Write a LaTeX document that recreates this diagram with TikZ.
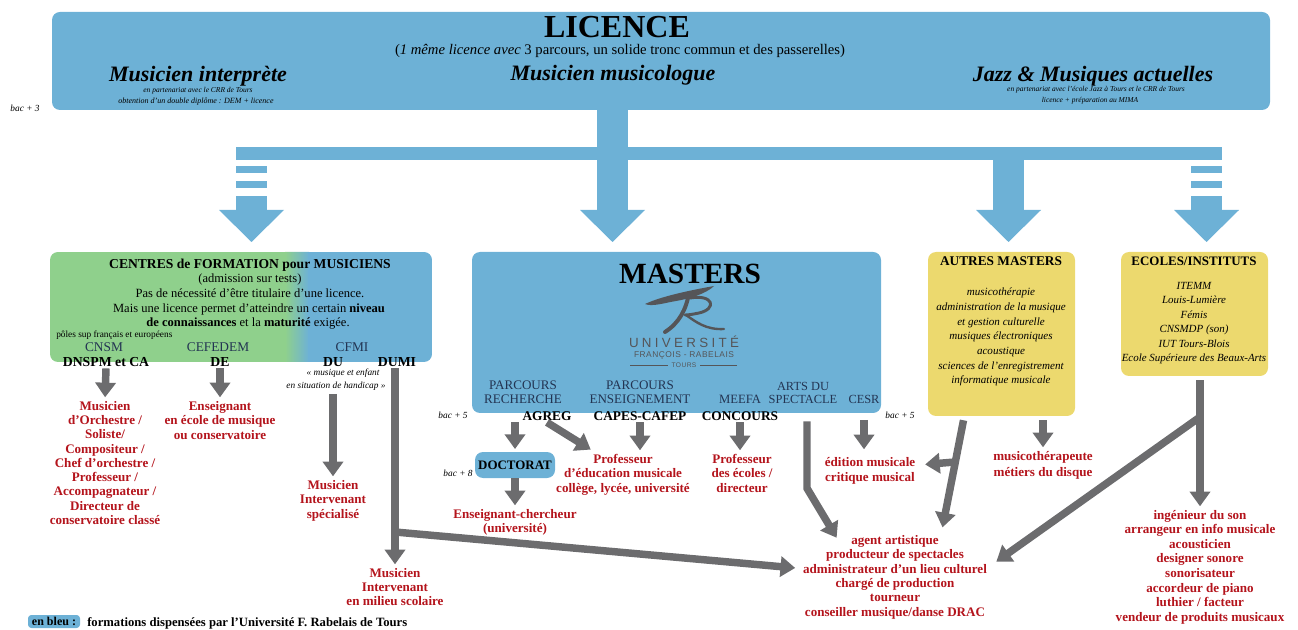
\documentclass[tikz,border=0pt]{standalone}
\usepackage{fontspec}
\setmainfont{Liberation Serif}
\newfontfamily\logofont[LetterSpace=25]{Liberation Sans}
\newfontfamily\logosmall[LetterSpace=6]{Liberation Sans}
\usetikzlibrary{arrows.meta,calc}

\definecolor{licblue}{RGB}{109,177,214}
\definecolor{formgreen}{RGB}{143,208,140}
\definecolor{autyellow}{RGB}{236,217,110}
\definecolor{arrgray}{RGB}{108,108,110}
\definecolor{metred}{RGB}{180,20,28}
\definecolor{navytxt}{RGB}{35,52,82}
\definecolor{logogray}{RGB}{85,85,88}

\tikzset{
  garrow/.style={draw=arrgray, line width=5.6pt, shorten >=2pt, -{Triangle[width=15pt,length=11pt]}},
  redtxt/.style={inner sep=0.75pt, text=metred, align=center, font=\fontsize{9.8}{10.8}\selectfont\bfseries},
  itemtxt/.style={inner sep=0.75pt, align=center, font=\fontsize{8.3}{11}\selectfont\itshape},
  bactxt/.style={inner sep=0.75pt, font=\fontsize{7}{8}\selectfont\itshape},
  roundbox/.style={rounded corners=6pt, inner sep=0pt},
}

\begin{document}
\begin{tikzpicture}[x=0.75pt,y=0.75pt,yscale=-1,xscale=1]
\useasboundingbox (0,0) rectangle (1298,630);

%Rounded Rect LICENCE
    \fill[licblue, rounded corners=6pt] (52,12) rectangle (1270,110);
%Down Arrows
    \fill[licblue] (597,110) rectangle (628,210);
    \fill[licblue] (580,210) -- (645,210) -- (612.5,242) -- cycle;
    \fill[licblue] (236,147) rectangle (1222,160);
    \fill[licblue] (236,166) rectangle (267,173);
    \fill[licblue] (236,181) rectangle (267,188);
    \fill[licblue] (236,196) rectangle (267,210);
    \fill[licblue] (219,210) -- (284,210) -- (251.5,242) -- cycle;
    \fill[licblue] (993,160) rectangle (1024,210);
    \fill[licblue] (976,210) -- (1041,210) -- (1008.5,242) -- cycle;
    \fill[licblue] (1191,166) rectangle (1222,173);
    \fill[licblue] (1191,181) rectangle (1222,188);
    \fill[licblue] (1191,196) rectangle (1222,210);
    \fill[licblue] (1174,210) -- (1239,210) -- (1206.5,242) -- cycle;

%Rounded Rect CENTRES (green to blue)
    \begin{scope}
    \clip[rounded corners=6pt] (50,252) rectangle (432,362);
    \fill[formgreen] (50,252) rectangle (286,362);
    \shade[left color=formgreen, right color=licblue] (285,252) rectangle (309,362);
    \fill[licblue] (308,252) rectangle (432,362);
    \end{scope}
%Rounded Rect MASTERS
    \draw (676.5,332.5) node [roundbox, fill=licblue, minimum width=306.75pt, minimum height=120.75pt] (mastbox) {};
%Rounded Rect AUTRES MASTERS
    \draw (1001.5,334) node [roundbox, fill=autyellow, minimum width=110.25pt, minimum height=123pt] (autbox) {};
%Rounded Rect ECOLES
    \draw (1194.5,314) node [roundbox, fill=autyellow, minimum width=110.25pt, minimum height=93pt] (ecobox) {};

% Text Node
    \draw (617,38) node [anchor=base][inner sep=0.75pt] [font=\fontsize{24}{24}\selectfont\bfseries] (lic) {LICENCE};
% Text Node
    \draw (620,55) node [anchor=base][inner sep=0.75pt] [font=\fontsize{11}{12}\selectfont] (licsub) {(\textit{1 même licence avec} 3 parcours, un solide tronc commun et des passerelles)};
% Text Node
    \draw (198,82) node [anchor=base][inner sep=0.75pt] [font=\fontsize{16.5}{17}\selectfont\bfseries\itshape] (interp) {Musicien interprète};
    \draw (198,93) node [anchor=base][inner sep=0.75pt] [font=\fontsize{5.6}{6}\selectfont\itshape] (interpA) {en partenariat avec le CRR de Tours};
    \draw (196,104) node [anchor=base][inner sep=0.75pt] [font=\fontsize{6}{6}\selectfont\itshape] (interpB) {obtention d’un double diplôme : DEM + licence};
% Text Node
    \draw (613,81) node [anchor=base][inner sep=0.75pt] [font=\fontsize{16.5}{17}\selectfont\bfseries\itshape] (musico) {Musicien musicologue};
% Text Node
    \draw (1093,82) node [anchor=base][inner sep=0.75pt] [font=\fontsize{16.5}{17}\selectfont\bfseries\itshape] (jazz) {Jazz \& Musiques actuelles};
    \draw (1096,92) node [anchor=base][inner sep=0.75pt] [font=\fontsize{5.6}{6}\selectfont\itshape] (jazzA) {en partenariat avec l’école Jazz à Tours et le CRR de Tours};
    \draw (1090,103) node [anchor=base][inner sep=0.75pt] [font=\fontsize{5.6}{6}\selectfont\itshape] (jazzB) {licence + préparation au MIMA};
% Text Node
    \draw (25,112) node [anchor=base][bactxt] (bacA) {bac + 3};

% Text Node CENTRES
    \draw (250,269) node [anchor=base][inner sep=0.75pt] [font=\fontsize{10.2}{10}\selectfont\bfseries] (centres) {CENTRES de FORMATION pour MUSICIENS};
    \draw (250,283) node [anchor=base][inner sep=0.75pt] [font=\fontsize{9.4}{9}\selectfont] (admis) {(admission sur tests)};
    \draw (250,298) node [anchor=base][inner sep=0.75pt] [font=\fontsize{9.4}{9}\selectfont] (pasnec) {Pas de nécessité d’être titulaire d’une licence.};
    \draw (249,313) node [anchor=base][inner sep=0.75pt] [font=\fontsize{9.4}{9}\selectfont] (maisune) {Mais une licence permet d’atteindre un certain \textbf{niveau}};
    \draw (248,327) node [anchor=base][inner sep=0.75pt] [font=\fontsize{9.4}{9}\selectfont] (deconn) {\textbf{de connaissances} et la \textbf{maturité} exigée.};
    \draw (55,338) node [anchor=base west][inner sep=0.75pt] [font=\fontsize{7}{7}\selectfont] (poles) {pôles sup français et européens};
    \draw (104,352) node [anchor=base][inner sep=0.75pt] [font=\fontsize{10}{10}\selectfont, text=navytxt] (cnsm) {CNSM};
    \draw (218,352) node [anchor=base][inner sep=0.75pt] [font=\fontsize{10}{10}\selectfont, text=navytxt] (cefedem) {CEFEDEM};
    \draw (352,352) node [anchor=base][inner sep=0.75pt] [font=\fontsize{10}{10}\selectfont, text=navytxt] (cfmi) {CFMI};
    \draw (106,367) node [anchor=base][inner sep=0.75pt] [font=\fontsize{10.3}{10}\selectfont\bfseries] (dnspm) {DNSPM et CA};
    \draw (220,367) node [anchor=base][inner sep=0.75pt] [font=\fontsize{10.3}{10}\selectfont\bfseries] (de) {DE};
    \draw (333,367) node [anchor=base][inner sep=0.75pt] [font=\fontsize{10.3}{10}\selectfont\bfseries] (du) {DU};
    \draw (397,367) node [anchor=base][inner sep=0.75pt] [font=\fontsize{10.3}{10}\selectfont\bfseries] (dumi) {DUMI};
    \draw (343,376) node [anchor=base][inner sep=0.75pt] [font=\fontsize{7}{7}\selectfont\itshape] (enfant) {« musique et enfant};
    \draw (336,388) node [anchor=base][inner sep=0.75pt] [font=\fontsize{7}{7}\selectfont\itshape] (handi) {en situation de handicap »};

% Text Node metiers (left)
    \draw (105,400) node [anchor=north][redtxt] [font=\fontsize{9.8}{10.7}\selectfont\bfseries] (orch) {Musicien\\d’Orchestre /\\Soliste/\\Compositeur /\\Chef d’orchestre /\\Professeur /\\Accompagnateur /\\Directeur de\\conservatoire classé};
    \draw (220,400) node [anchor=north][redtxt] (ens) {Enseignant\\en école de musique\\ou conservatoire};
    \draw (333,479) node [anchor=north][redtxt] (spec) {Musicien\\Intervenant\\spécialisé};
    \draw (395,567) node [anchor=north][redtxt] [font=\fontsize{9.8}{10.5}\selectfont\bfseries] (scol) {Musicien\\Intervenant\\en milieu scolaire};

% Text Node MASTERS
    \draw (690,284) node [anchor=base][inner sep=0.75pt] [font=\fontsize{22}{22}\selectfont\bfseries] (masters) {MASTERS};
%Logo
    \fill[logogray] (645,304) .. controls (662,296) and (692,290) .. (714,286) .. controls (706,294) and (688,299) .. (676,301) .. controls (664,303) and (652,307) .. (645,304) -- cycle;
    \draw[logogray, line width=3pt, line cap=round] (689,293) .. controls (686,310) and (679,323) .. (665,332);
    \draw[logogray, line width=2.2pt, line cap=round] (690,298) .. controls (714,294) and (717,309) .. (699,313) .. controls (694,314) and (689,315) .. (685,315);
    \draw[logogray, line width=1.8pt, line cap=round] (686,315) .. controls (696,322) and (706,330) .. (724,329);
    \draw (684,348) node [anchor=base][inner sep=0.75pt] [font=\logofont\fontsize{10}{10}\selectfont, text=logogray] (univ) {UNIVERSITÉ};
    \draw (684,358) node [anchor=base][inner sep=0.75pt] [font=\logosmall\fontsize{6.3}{6.3}\selectfont, text=logogray] (rabel) {FRANÇOIS - RABELAIS};
    \draw (684,368) node [anchor=base][inner sep=0.75pt] [font=\logosmall\fontsize{5}{5}\selectfont, text=logogray] (tours) {TOURS};
    \draw[logogray, line width=0.8pt, shorten >=2pt] (630,365.5) -- (tours.west |- 0,365.5);
    \draw[logogray, line width=0.8pt, shorten >=2pt] (737,365.5) -- (tours.east |- 0,365.5);
% Text Node parcours
    \draw (523,405) node [anchor=south][inner sep=0.75pt] [align=center, font=\fontsize{9.8}{10.5}\selectfont, text=navytxt] (rech) {PARCOURS\\RECHERCHE};
    \draw (640,405) node [anchor=south][inner sep=0.75pt] [align=center, font=\fontsize{9.8}{10.5}\selectfont, text=navytxt] (ensg) {PARCOURS\\ENSEIGNEMENT};
    \draw (740,404) node [anchor=base][inner sep=0.75pt] [font=\fontsize{9.5}{10}\selectfont, text=navytxt] (meefa) {MEEFA};
    \draw (803,405) node [anchor=south][inner sep=0.75pt] [align=center, font=\fontsize{9.3}{10}\selectfont, text=navytxt] (arts) {ARTS DU\\SPECTACLE};
    \draw (864,404) node [anchor=base][inner sep=0.75pt] [font=\fontsize{9.3}{10}\selectfont, text=navytxt] (cesr) {CESR};
    \draw (547,421) node [anchor=base][inner sep=0.75pt] [font=\fontsize{10}{10}\selectfont\bfseries] (agreg) {AGREG};
    \draw (640,421) node [anchor=base][inner sep=0.75pt] [font=\fontsize{10}{10}\selectfont\bfseries] (capes) {CAPES-CAFEP};
    \draw (740,421) node [anchor=base][inner sep=0.75pt] [font=\fontsize{10}{10}\selectfont\bfseries] (conc) {CONCOURS};
    \draw (453,418) node [anchor=base][bactxt] (bacB) {bac + 5};
    \draw (900,418) node [anchor=base][bactxt] (bacC) {bac + 5};
    \draw (458,476) node [anchor=base][bactxt] (bacD) {bac + 8};
%Rounded Rect DOCTORAT
    \draw (515,465) node [roundbox, fill=licblue, minimum width=60pt, minimum height=19.5pt] [font=\fontsize{9.7}{10}\selectfont\bfseries] (docbox) {DOCTORAT};

% Text Node metiers (middle)
    \draw (515,508) node [anchor=north][redtxt] (enschr) {Enseignant-chercheur\\(université)};
    \draw (623,453) node [anchor=north][redtxt] (profedu) {Professeur\\d’éducation musicale\\collège, lycée, université};
    \draw (742,453) node [anchor=north][redtxt] (profecol) {Professeur\\des écoles /\\directeur};
    \draw (870,456) node [anchor=north][redtxt] [font=\fontsize{9.8}{11.2}\selectfont\bfseries] (edit) {édition musicale\\critique musical};
    \draw (895,534) node [anchor=north][redtxt] (agent) {agent artistique\\producteur de spectacles\\administrateur d’un lieu culturel\\chargé de production\\tourneur\\conseiller musique/danse DRAC};

% Text Node AUTRES MASTERS
    \draw (1001,265.5) node [anchor=base][inner sep=0.75pt] [font=\fontsize{10}{10}\selectfont\bfseries] (autres) {AUTRES MASTERS};
    \draw (1001,287) node [anchor=north][itemtxt] (autitems) {musicothérapie\\administration de la musique\\et gestion culturelle\\musiques électroniques\\acoustique\\sciences de l’enregistrement\\informatique musicale};
    \draw (1043,450) node [anchor=north][redtxt] [font=\fontsize{9.8}{12}\selectfont\bfseries] (musth) {musicothérapeute\\métiers du disque};
% Text Node ECOLES
    \draw (1194,265.5) node [anchor=base][inner sep=0.75pt] [font=\fontsize{9.7}{10}\selectfont\bfseries] (ecoles) {ECOLES/INSTITUTS};
    \draw (1194,281) node [anchor=north][itemtxt] [font=\fontsize{8.2}{10.8}\selectfont\itshape] (ecoitems) {ITEMM\\Louis-Lumière\\Fémis\\CNSMDP (son)\\IUT Tours-Blois\\Ecole Supérieure des Beaux-Arts};
    \draw (1200,509) node [anchor=north][redtxt] [font=\fontsize{9.8}{10.9}\selectfont\bfseries] (ing) {ingénieur du son\\arrangeur en info musicale\\acousticien\\designer sonore\\sonorisateur\\accordeur de piano\\luthier / facteur\\vendeur de produits musicaux};

% Legend
    \draw (54,621.5) node [roundbox, rounded corners=2.5pt, fill=licblue, minimum width=39pt, minimum height=9.75pt] [font=\fontsize{9}{9}\selectfont\bfseries] (legbox) {en bleu :};
    \draw (86,626) node [anchor=base west][inner sep=0.75pt] [font=\fontsize{9.5}{10}\selectfont\bfseries] (legtxt) {formations dispensées par l’Université F. Rabelais de Tours};

%Gray Arrows
    \draw[garrow] (dnspm.south) -- (orch.north);
    \draw[garrow] (de.south) -- (ens.north);
    \draw[garrow, shorten <=2pt] (du |- handi.south) -- (spec.north);
    \draw[garrow] (scol.north |- dumi.south) -- (scol.north);
    \coordinate (dumibr) at (395,532);
    \draw[garrow] (dumibr) -- ($(agent.west)+(-4,-9)$);
    \draw[garrow] (docbox.north |- agreg.south) -- (docbox.north);
    \draw[garrow] (agreg.south) -- ($(profedu.north)+(-30,-2)$);
    \draw[garrow] (capes.south) -- (capes.south |- profedu.north);
    \draw[garrow] (conc.south) -- (conc.south |- profecol.north);
    \draw[garrow] (docbox.south) -- (enschr.north);
    \draw[garrow] ($(arts.south |- mastbox.south)+(4,8)$) -- ++(0,67) -- ($(agent.north)+(-57,6)$);
    \draw[garrow, shorten <=5pt, shorten >=5pt] (cesr.south |- mastbox.south) -- (cesr.south |- edit.north);
    \draw[garrow] ($(autbox.south)+(-38,4)$) -- ($(agent.north)+(47,-4)$);
    \coordinate (autbr) at (955,462);
    \draw[garrow] (autbr) -- ($(edit.east)+(6,-6)$);
    \draw[garrow, shorten <=3pt] (musth.north |- autbox.south) -- (musth.north);
    \draw[garrow, shorten <=3pt] (ing.north |- ecobox.south) -- (ing.north);
    \coordinate (ecobr) at (1200,417);
    \draw[garrow] (ecobr) -- ($(agent.east)+(6,-14)$);

\end{tikzpicture}
\end{document}
